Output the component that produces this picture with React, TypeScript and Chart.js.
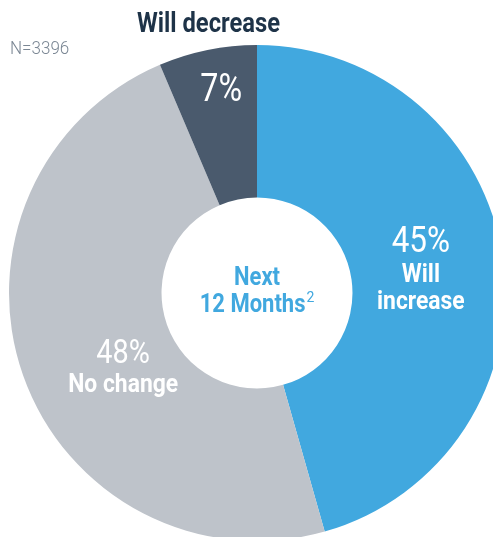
import React, { useEffect, useRef } from "react";
import { Chart, registerables } from "chart.js";

Chart.register(...registerables);

const categories = ["Will increase", "No change", "Will decrease"];
const shareValues = [45.6, 48.0, 6.4];
const percentLabels = ["45%", "48%", "7%"];
const nameLines = [["Will", "increase"], ["No change"], []];
const sliceColors = ["#41A8DF", "#BEC3CA", "#4A5A6D"];
const titleText = "Will decrease";
const sampleText = "N=3396";
const centerLines = ["Next", "12 Months"];
const centerSup = "2";

// label placement within each slice: fraction of slice angle, fraction of ring depth
const labelAngleFrac = [0.493, 0.449, 0.57];
const labelRadiusFrac = [0.462, 0.37, 0.74];
const pctSizes = [37, 34, 38];
const pctOffsets = [-15, -2, 13];
const nameOffsets = [[15, 42], [27], []];

const COND = 0.88;

function drawText(ctx: CanvasRenderingContext2D, text: string, x: number, y: number, font: string, color: string, align: CanvasTextAlign, sx = COND) {
  ctx.save();
  ctx.font = font;
  ctx.fillStyle = color;
  ctx.textAlign = align;
  ctx.textBaseline = "alphabetic";
  ctx.translate(x, y);
  ctx.scale(sx, 1);
  ctx.fillText(text, 0, 0);
  ctx.restore();
}

const labelPlugin = {
  id: "labelPlugin",
  afterDraw(chart: any) {
    const ctx: CanvasRenderingContext2D = chart.ctx;
    const meta = chart.getDatasetMeta(0);
    meta.data.forEach((arc: any, i: number) => {
      const p = arc.getProps(["x", "y", "startAngle", "endAngle", "innerRadius", "outerRadius"], true);
      const ang = p.startAngle + labelAngleFrac[i] * (p.endAngle - p.startAngle);
      const r = p.innerRadius + labelRadiusFrac[i] * (p.outerRadius - p.innerRadius);
      const ax = p.x + r * Math.cos(ang);
      const ay = p.y + r * Math.sin(ang);
      drawText(ctx, percentLabels[i], ax, ay + pctOffsets[i], `400 ${pctSizes[i]}px Roboto`, "#FFFFFF", "center", 0.85);
      nameLines[i].forEach((ln, j) => {
        drawText(ctx, ln, ax, ay + nameOffsets[i][j], "bold 26px Roboto", "#FFFFFF", "center");
      });
    });
    // center text
    const a0 = meta.data[0];
    const cx = a0.x;
    const cy = a0.y;
    drawText(ctx, centerLines[0], cx, cy - 8, "bold 25px Roboto", "#41A8DF", "center");
    ctx.save();
    ctx.font = "bold 25px Roboto";
    const w1 = ctx.measureText(centerLines[1]).width * COND;
    ctx.font = "400 14px Roboto";
    const w2 = ctx.measureText(centerSup).width;
    ctx.restore();
    const startX = cx - (w1 + w2 + 1) / 2;
    drawText(ctx, centerLines[1], startX, cy + 19, "bold 25px Roboto", "#41A8DF", "left");
    drawText(ctx, centerSup, startX + w1 + 1, cy + 9, "400 14px Roboto", "#41A8DF", "left", 1);
    // title and sample size
    drawText(ctx, titleText, 208.5, 32, "bold 27px Roboto", "#1E3348", "center");
    drawText(ctx, sampleText, 10, 54, "300 18.5px Roboto", "#7B8794", "left", 0.92);
  },
};

export default function App() {
  const ref = useRef<HTMLCanvasElement | null>(null);
  useEffect(() => {
    if (!ref.current) return;
    const chart = new Chart(ref.current, {
      type: "doughnut",
      data: {
        labels: categories,
        datasets: [
          {
            data: shareValues,
            backgroundColor: sliceColors,
            borderWidth: 0,
          },
        ],
      },
      options: {
        animation: false,
        responsive: false,
        devicePixelRatio: 1,
        cutout: "38.5%",
        layout: { padding: { left: 9, top: 45, right: 15, bottom: 59 } },
        plugins: {
          legend: { display: false },
          tooltip: { enabled: false },
          title: { display: false },
        },
      },
      plugins: [labelPlugin],
    });
    return () => chart.destroy();
  }, []);
  return (
    <div
      style={{
        position: "absolute",
        left: 0,
        top: 0,
        width: 493,
        height: 537,
        overflow: "hidden",
        background: "#FFFFFF",
      }}
    >
      <canvas
        ref={ref}
        width={520}
        height={600}
        style={{ position: "absolute", left: 0, top: 0, width: 520, height: 600 }}
      />
    </div>
  );
}
